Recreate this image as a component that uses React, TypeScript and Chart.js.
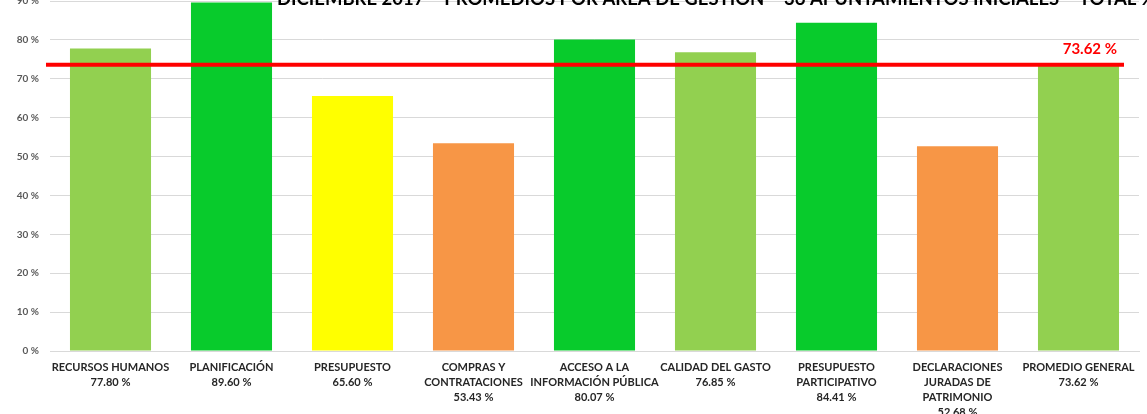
import React, { useEffect, useRef } from "react";
import { Chart, registerables } from "chart.js";

Chart.register(...registerables);

const chartTitle =
  "DICIEMBRE 2017 – PROMEDIOS POR ÁREA DE GESTIÓN – 36 APUNTAMIENTOS INICIALES – TOTAL %";

const categoryLines: string[][] = [
  ["RECURSOS HUMANOS"],
  ["PLANIFICACIÓN"],
  ["PRESUPUESTO"],
  ["COMPRAS Y", "CONTRATACIONES"],
  ["ACCESO A LA", "INFORMACIÓN PÚBLICA"],
  ["CALIDAD DEL GASTO"],
  ["PRESUPUESTO", "PARTICIPATIVO"],
  ["DECLARACIONES", "JURADAS DE", "PATRIMONIO"],
  ["PROMEDIO GENERAL"],
];

const values: number[] = [77.8, 89.6, 65.6, 53.43, 80.07, 76.85, 84.41, 52.68, 73.62];

const barColors: string[] = [
  "#92D050",
  "#08CB2C",
  "#FFFF00",
  "#F79646",
  "#08CB2C",
  "#92D050",
  "#08CB2C",
  "#F79646",
  "#92D050",
];

const averageValue = 73.62;
const yMin = 0;
const yMax = 90;
const yStep = 10;

const FONT = "Lato, 'Open Sans', sans-serif";

export default function App() {
  const canvasRef = useRef<HTMLCanvasElement | null>(null);

  useEffect(() => {
    if (!canvasRef.current) return;
    const labels = categoryLines.map((lines, i) => [...lines, values[i].toFixed(2) + " %"]);

    const overlay = {
      id: "overlay",
      afterDatasetsDraw(chart: any) {
        const { ctx, chartArea } = chart;
        const y = chart.scales.y;
        const py = y.getPixelForValue(averageValue);
        ctx.save();
        ctx.strokeStyle = "#FF0000";
        ctx.lineWidth = 4;
        ctx.beginPath();
        ctx.moveTo(chartArea.left - 4, py);
        ctx.lineTo(chartArea.right - 15, py);
        ctx.stroke();
        ctx.fillStyle = "#FF0000";
        ctx.font = `bold 15px ${FONT}`;
        ctx.textAlign = "right";
        ctx.textBaseline = "alphabetic";
        ctx.fillText(averageValue.toFixed(2) + " %", chartArea.right - 22, py - 11);
        ctx.fillStyle = "#000000";
        ctx.font = `bold 18.5px ${FONT}`;
        ctx.textAlign = "left";
        ctx.fillText(chartTitle, 277, chartArea.top + 4);
        ctx.restore();
      },
    };

    const chart = new Chart(canvasRef.current, {
      type: "bar",
      data: {
        labels,
        datasets: [
          {
            data: values,
            backgroundColor: barColors,
            borderWidth: 0,
            categoryPercentage: 1,
            barPercentage: 0.67,
          },
        ],
      },
      options: {
        responsive: false,
        animation: false,
        devicePixelRatio: 1,
        layout: { padding: { top: 41, right: 8, left: 0, bottom: 0 } },
        plugins: {
          legend: { display: false },
          title: { display: false },
          tooltip: { enabled: false },
        },
        scales: {
          x: {
            grid: { display: false, drawTicks: false },
            border: { display: true, color: "#D9D9D9", width: 1 },
            ticks: {
              autoSkip: false,
              maxRotation: 0,
              minRotation: 0,
              padding: 9,
              color: "#262626",
              font: { family: FONT, size: 11, weight: "bold", lineHeight: 1.36 },
            },
            afterFit: (scale: any) => {
              scale.height = 80;
            },
          },
          y: {
            min: yMin,
            max: yMax,
            grid: { color: "#D9D9D9", lineWidth: 1, drawTicks: false },
            border: { display: false },
            ticks: {
              stepSize: yStep,
              padding: 11,
              color: "#595959",
              font: { family: FONT, size: 10, weight: "bold" },
              callback: (v: any) => v + " %",
            },
            afterFit: (scale: any) => {
              scale.width = 50;
            },
          },
        },
      },
      plugins: [overlay],
    });
    return () => chart.destroy();
  }, []);

  return (
    <div
      style={{
        position: "fixed",
        left: 0,
        top: 0,
        width: 1147,
        height: 414,
        overflow: "hidden",
        background: "#FFFFFF",
      }}
    >
      <canvas
        ref={canvasRef}
        width={1147}
        height={471}
        style={{ position: "absolute", left: 0, top: -40, width: 1147, height: 471 }}
      />
    </div>
  );
}
